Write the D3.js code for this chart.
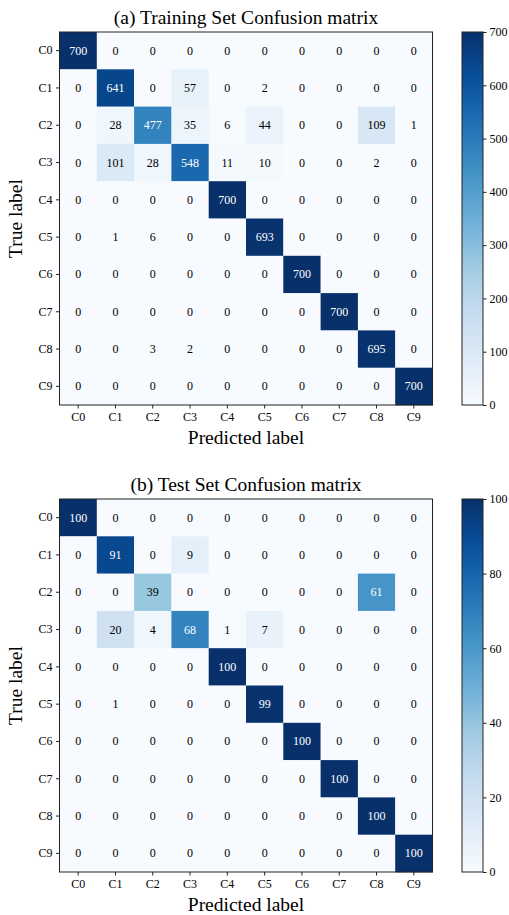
<!DOCTYPE html>
<html><head><meta charset="utf-8">
<script src="https://cdn.jsdelivr.net/npm/d3@7"></script>
<style>
html,body{margin:0;padding:0;background:#fff;}
svg text{font-family:"Liberation Serif","Times New Roman",serif !important;}
</style></head>
<body><svg id="chart" width="509" height="915"></svg>
<script>
const classes = ["C0","C1","C2","C3","C4","C5","C6","C7","C8","C9"];
const trainTitle = "(a) Training Set Confusion matrix";
const testTitle = "(b) Test Set Confusion matrix";
const trainMatrix = [
  [700,0,0,0,0,0,0,0,0,0],
  [0,641,0,57,0,2,0,0,0,0],
  [0,28,477,35,6,44,0,0,109,1],
  [0,101,28,548,11,10,0,0,2,0],
  [0,0,0,0,700,0,0,0,0,0],
  [0,1,6,0,0,693,0,0,0,0],
  [0,0,0,0,0,0,700,0,0,0],
  [0,0,0,0,0,0,0,700,0,0],
  [0,0,3,2,0,0,0,0,695,0],
  [0,0,0,0,0,0,0,0,0,700]
];
const testMatrix = [
  [100,0,0,0,0,0,0,0,0,0],
  [0,91,0,9,0,0,0,0,0,0],
  [0,0,39,0,0,0,0,0,61,0],
  [0,20,4,68,1,7,0,0,0,0],
  [0,0,0,0,100,0,0,0,0,0],
  [0,1,0,0,0,99,0,0,0,0],
  [0,0,0,0,0,0,100,0,0,0],
  [0,0,0,0,0,0,0,100,0,0],
  [0,0,0,0,0,0,0,0,100,0],
  [0,0,0,0,0,0,0,0,0,100]
];
const trainCbTicks = [0,100,200,300,400,500,600,700];
const testCbTicks = [0,20,40,60,80,100];

const bluesStops = ["#f7fbff","#deebf7","#c6dbef","#9ecae1","#6baed6","#4292c6","#2171b5","#08519c","#08306b"];
const SERIF = '"Liberation Serif","Times New Roman",serif';

const svg = d3.select("#chart");

function drawPanel(top, title, matrix, cbTicks) {
  const left = 59.5, size = 373;
  const vmax = d3.max(matrix.flat());
  const vmin = d3.min(matrix.flat());
  const color = d3.scaleLinear()
    .domain(bluesStops.map((d,i)=> vmin + (vmax-vmin)*i/(bluesStops.length-1)))
    .range(bluesStops).interpolate(d3.interpolateRgb);
  const x = d3.scaleBand().domain(classes).range([left, left+size]);
  const y = d3.scaleBand().domain(classes).range([top, top+size]);
  const g = svg.append("g");

  const cells = [];
  matrix.forEach((row,i)=>row.forEach((v,j)=>cells.push({r:classes[i], c:classes[j], v})));
  g.selectAll("rect.cell").data(cells).join("rect")
    .attr("class","cell")
    .attr("x", d=>x(d.c)).attr("y", d=>y(d.r))
    .attr("width", x.bandwidth()+0.3).attr("height", y.bandwidth()+0.3)
    .attr("fill", d=>color(d.v));
  const thresh = (vmax+vmin)/2;
  g.selectAll("text.val").data(cells).join("text")
    .attr("class","val")
    .attr("x", d=>x(d.c)+x.bandwidth()/2).attr("y", d=>y(d.r)+y.bandwidth()/2)
    .attr("text-anchor","middle").attr("dominant-baseline","central")
    .attr("font-size", 12).style("font-family", SERIF)
    .attr("fill", d=> d.v > thresh ? "#fff" : "#000")
    .text(d=>d.v);

  g.append("rect").attr("x",left).attr("y",top).attr("width",size).attr("height",size)
    .attr("fill","none").attr("stroke","#222").attr("stroke-width",1);

  const xAxis = g.append("g").attr("transform",`translate(0,${top+size})`)
    .call(d3.axisBottom(x).tickSize(3.5).tickPadding(3.5));
  const yAxis = g.append("g").attr("transform",`translate(${left},0)`)
    .call(d3.axisLeft(y).tickSize(3.5).tickPadding(3.5));
  [xAxis,yAxis].forEach(a=>{
    a.attr("font-family", SERIF);
    a.select(".domain").remove();
    a.selectAll("line").attr("stroke","#222");
    a.selectAll("text").attr("font-size",12).attr("fill","#000").style("font-family", SERIF);
  });

  g.append("text").attr("x", left+size/2).attr("y", top-8)
    .attr("text-anchor","middle").attr("font-size",19.5).style("font-family", SERIF).text(title);
  g.append("text").attr("x", left+size/2).attr("y", top+size+39)
    .attr("text-anchor","middle").attr("font-size",19.5).style("font-family", SERIF).text("Predicted label");
  g.append("text").attr("transform",`translate(22,${top+size/2}) rotate(-90)`)
    .attr("text-anchor","middle").attr("font-size",19.5).style("font-family", SERIF).text("True label");

  // colorbar
  const cbX = 462, cbW = 21;
  const cy = d3.scaleLinear().domain([vmin,vmax]).range([top+size, top]);
  const gradId = "grad"+top;
  const grad = svg.append("defs").append("linearGradient").attr("id",gradId)
    .attr("x1",0).attr("y1",1).attr("x2",0).attr("y2",0);
  bluesStops.forEach((c,i)=>grad.append("stop").attr("offset", i/(bluesStops.length-1)).attr("stop-color",c));
  g.append("rect").attr("x",cbX).attr("y",top).attr("width",cbW).attr("height",size)
    .attr("fill",`url(#${gradId})`).attr("stroke","#222").attr("stroke-width",1);
  const cAxis = g.append("g").attr("transform",`translate(${cbX+cbW},0)`)
    .call(d3.axisRight(cy).tickValues(cbTicks).tickSize(3.5).tickPadding(3));
  cAxis.attr("font-family", SERIF);
  cAxis.select(".domain").remove();
  cAxis.selectAll("line").attr("stroke","#222");
  cAxis.selectAll("text").attr("font-size",12).attr("fill","#000").style("font-family", SERIF);
}

drawPanel(32, trainTitle, trainMatrix, trainCbTicks);
drawPanel(499, testTitle, testMatrix, testCbTicks);
</script></body></html>
